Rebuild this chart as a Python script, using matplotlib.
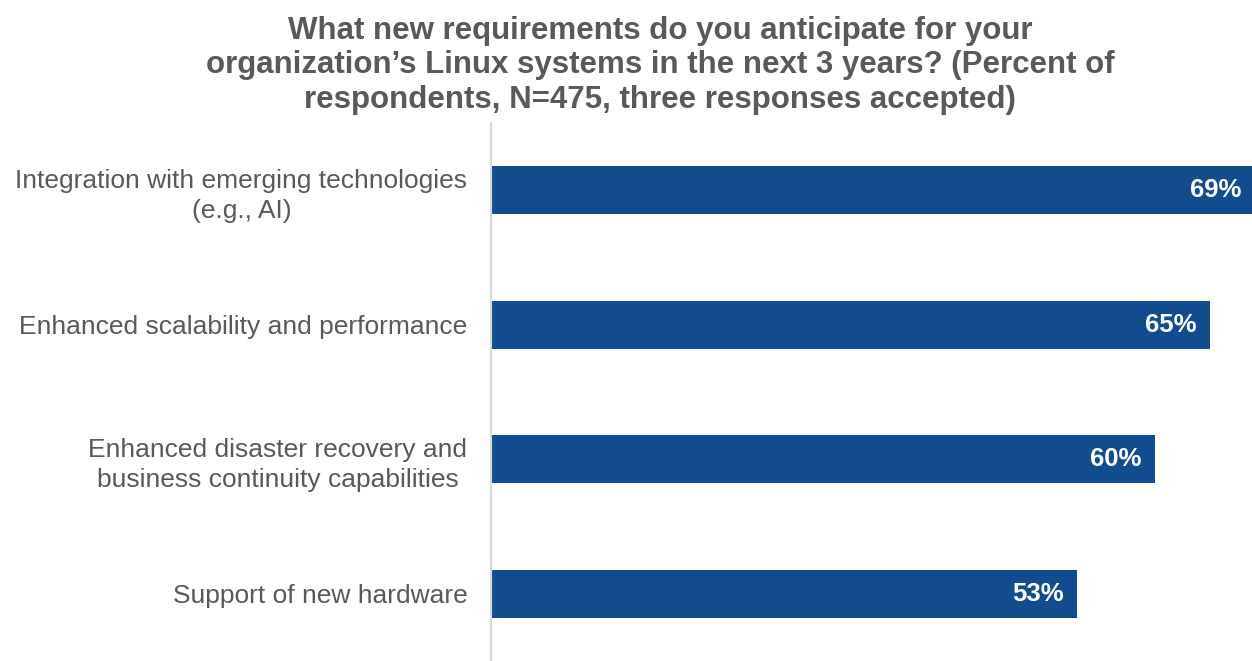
import matplotlib.pyplot as plt

plt.rcParams['font.family'] = ['Liberation Sans', 'DejaVu Sans']

categories = ['Integration with emerging technologies\n(e.g., AI)',
              'Enhanced scalability and performance',
              'Enhanced disaster recovery and\nbusiness continuity capabilities',
              'Support of new hardware']
values = [69, 65, 60, 53]

title = ("What new requirements do you anticipate for your\n"
         "organization\u2019s Linux systems in the next 3 years? (Percent of\n"
         "respondents, N=475, three responses accepted)")

bar_color = '#134c8e'
text_gray = '#595959'

fig = plt.figure(figsize=(12.52, 6.61), dpi=100)
ax = fig.add_axes([491/1252, 0, 1 - 491/1252, 1 - 123/661])

y = list(range(len(categories)))
ax.barh(y, values, height=0.355, color=bar_color)
ax.set_ylim(3.5, -0.5)
ax.set_xlim(0, 68.8)

for yi, v in zip(y, values):
    ax.text(v - 1.2, yi, f'{v}%', ha='right', va='center', color='white',
            fontsize=18.5, fontweight='bold')

ax.set_yticks(y)
ax.set_yticklabels(categories, fontsize=19, color=text_gray,
                   multialignment='center', linespacing=1.35)
ax.tick_params(axis='y', length=0, pad=17)
ax.set_xticks([])
for s in ['top', 'right', 'bottom']:
    ax.spines[s].set_visible(False)
ax.spines['left'].set_color('#d9d9d9')
ax.spines['left'].set_linewidth(1.5)

fig.text(660/1252, 0.976, title, ha='center', va='top', fontsize=22.5, fontweight='bold',
         color=text_gray, linespacing=1.2)

fig.savefig('out.png', dpi=100)
